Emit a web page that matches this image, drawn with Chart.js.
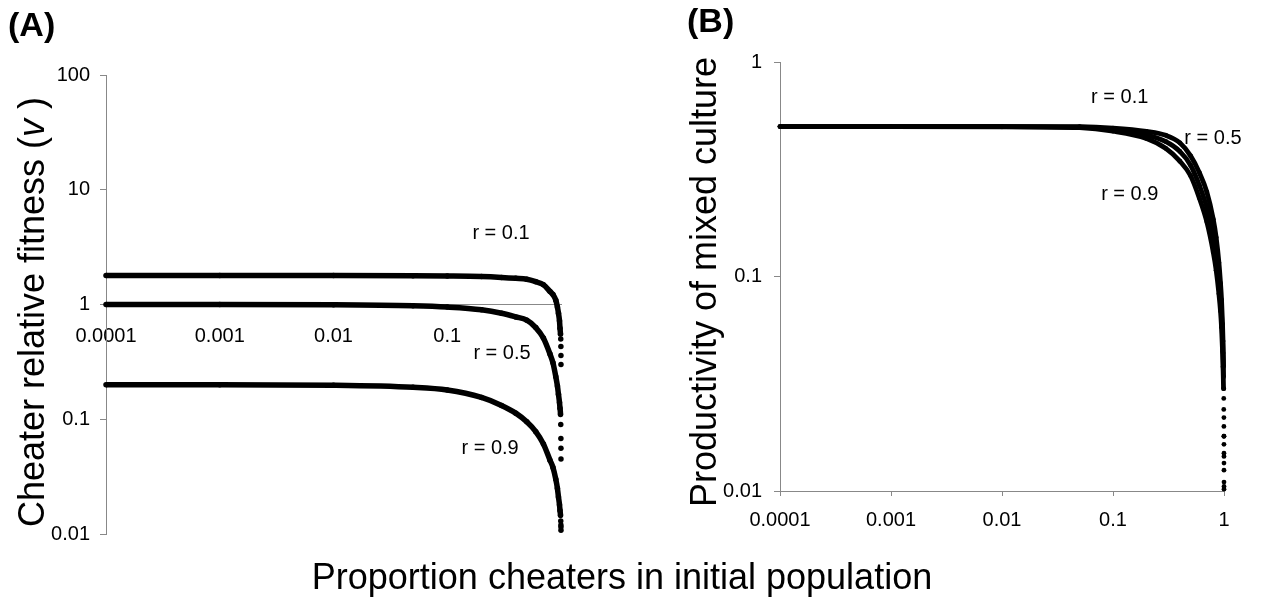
<!DOCTYPE html>
<html>
<head>
<meta charset="utf-8">
<script src="https://cdn.jsdelivr.net/npm/chart.js@4.4.1/dist/chart.umd.min.js"></script>
<style>
  html, body { margin: 0; padding: 0; background: #fff; }
  #wrap { position: relative; width: 1265px; height: 598px; overflow: hidden; }
  canvas { position: absolute; top: 0; }
  #xtitle {
    position: absolute; left: 0; top: 557px; width: 1244px; text-align: center;
    font: 36px "Liberation Sans", Arial, sans-serif; line-height: 40px; color: #000;
  }
</style>
</head>
<body>
<div id="wrap">
  <canvas id="chartA" width="620" height="598" style="left:0"></canvas>
  <canvas id="chartB" width="645" height="598" style="left:620px"></canvas>
  <div id="xtitle">Proportion cheaters in initial population</div>
</div>
<script>
// Proporção de trapaceiros (eixo x, log) para os dois painéis
const propA = [0.0001, 0.001, 0.01, 0.05, 0.1, 0.2, 0.3, 0.4, 0.5, 0.6, 0.7, 0.8, 0.85, 0.9, 0.93, 0.95, 0.97, 0.98, 0.99, 0.995, 0.998, 0.999, 0.9995]
const propB = [0.0001, 0.001, 0.01, 0.05, 0.1, 0.2, 0.3, 0.4, 0.5, 0.6, 0.7, 0.8, 0.85, 0.9, 0.93, 0.95, 0.97, 0.98, 0.99, 0.995, 0.998, 0.999, 0.9995, 0.9999]

// (A) cheater relative fitness
const fitnessR01 = [1.79, 1.79, 1.79, 1.78, 1.77, 1.75, 1.72, 1.69, 1.66, 1.58, 1.49, 1.30, 1.22, 1.09, 0.95, 0.84, 0.72, 0.62, 0.55, 0.50, 0.43, 0.36, 0.30]
const fitnessR05 = [1.0, 1.0, 0.995, 0.975, 0.95, 0.9, 0.84, 0.78, 0.73, 0.63, 0.51, 0.37, 0.31, 0.235, 0.195, 0.165, 0.14, 0.125, 0.11, 0.09, 0.068, 0.056, 0.045]
const fitnessR09 = [0.2, 0.2, 0.198, 0.19, 0.18, 0.155, 0.132, 0.113, 0.095, 0.078, 0.061, 0.044, 0.038, 0.030, 0.025, 0.021, 0.018, 0.016, 0.0145, 0.013, 0.012, 0.0115, 0.0108]

// (B) productivity of mixed culture
const prodR01 = [0.5, 0.5, 0.5, 0.499, 0.492, 0.475, 0.455, 0.42, 0.365, 0.305, 0.248, 0.185, 0.152, 0.116, 0.093, 0.078, 0.06, 0.05, 0.038, 0.03, 0.022, 0.018, 0.0145, 0.011]
const prodR05 = [0.5, 0.5, 0.5, 0.497, 0.484, 0.457, 0.425, 0.383, 0.33, 0.266, 0.21, 0.155, 0.127, 0.098, 0.08, 0.067, 0.052, 0.044, 0.034, 0.027, 0.02, 0.0165, 0.0135, 0.0105]
const prodR09 = [0.5, 0.5, 0.499, 0.494, 0.476, 0.44, 0.395, 0.345, 0.295, 0.232, 0.18, 0.13, 0.107, 0.083, 0.069, 0.058, 0.045, 0.038, 0.03, 0.024, 0.018, 0.015, 0.0125, 0.0102]

// Ticks e rótulos
const xTicksA = [0.0001, 0.001, 0.01, 0.1]
const xTickLabelsA = ["0.0001", "0.001", "0.01", "0.1"]
const yTicksA = [0.01, 0.1, 1, 10, 100]
const yTickLabelsA = ["0.01", "0.1", "1", "10", "100"]
const xTicksB = [0.0001, 0.001, 0.01, 0.1, 1]
const xTickLabelsB = ["0.0001", "0.001", "0.01", "0.1", "1"]
const yTicksB = [0.01, 0.1, 1]
const yTickLabelsB = ["0.01", "0.1", "1"]

const rLabels = ["r = 0.1", "r = 0.5", "r = 0.9"]
// onde cada rótulo r fica (em coordenadas dos dados)
const rLabelAtA = [[0.297, 4.14], [0.303, 0.375], [0.238, 0.056]]
const rLabelAtB = [[0.115, 0.685], [0.796, 0.441], [0.1416, 0.242]]

const FONT = '"Liberation Sans", Arial, sans-serif'
const AXIS = "#888"
const INK = "#000"

// desenha letra do painel, rótulos r e título do eixo y (girado)
const annotate = {
  id: "annotate",
  afterDraw(chart, args, o) {
    const { ctx } = chart
    const { x, y } = chart.scales
    ctx.save()
    ctx.fillStyle = INK
    ctx.textAlign = "left"
    ctx.textBaseline = "alphabetic"
    ctx.font = "bold 34px " + FONT
    ctx.fillText(o.letter, o.letterX, o.letterY)

    ctx.font = "20px " + FONT
    ctx.textAlign = "center"
    ctx.textBaseline = "middle"
    o.notes.forEach(([px, py], i) => {
      ctx.fillText(rLabels[i], x.getPixelForValue(px), y.getPixelForValue(py))
    })

    ctx.translate(o.titleX, o.titleY)
    ctx.rotate(-Math.PI / 2)
    ctx.textAlign = "left"
    ctx.textBaseline = "alphabetic"
    const fontOf = (p) => (p.italic ? "italic " : "") + "36px " + FONT
    let total = 0
    o.title.forEach((p) => { ctx.font = fontOf(p); total += ctx.measureText(p.text).width })
    let cx = -total / 2
    o.title.forEach((p) => {
      ctx.font = fontOf(p)
      ctx.fillText(p.text, cx, 0)
      cx += ctx.measureText(p.text).width
    })
    ctx.restore()
  }
}

function series(xs, values, width) {
  return {
    data: xs.map((x, i) => ({ x, y: values[i] })),
    borderColor: INK,
    backgroundColor: INK,
    borderWidth: width,
    pointRadius: width / 2,
    pointBorderWidth: 0,
    cubicInterpolationMode: "monotone",
    clip: false,
    // a cauda perto de 1 fica só em pontos soltos
    segment: { borderColor: (ctx) => (ctx.p0.parsed.x >= 0.99 ? "rgba(0,0,0,0)" : INK) }
  }
}

function fixedTicks(values) {
  return (axis) => { axis.ticks = values.map((value) => ({ value })) }
}

const tickFont = { family: FONT, size: 20 }

new Chart(document.getElementById("chartA"), {
  type: "line",
  data: { datasets: [series(propA, fitnessR01, 5.5), series(propA, fitnessR05, 5.5), series(propA, fitnessR09, 5.5)] },
  options: {
    responsive: false,
    animation: false,
    devicePixelRatio: 1,
    layout: { padding: { top: 75, right: 59, bottom: 64, left: 0 } },
    plugins: {
      legend: { display: false },
      tooltip: { enabled: false },
      annotate: {
        letter: "(A)", letterX: 8, letterY: 36,
        notes: rLabelAtA,
        titleX: 44, titleY: 312,
        title: [{ text: "Cheater relative fitness (" }, { text: "v", italic: true }, { text: " )" }]
      }
    },
    scales: {
      x: {
        type: "logarithmic",
        min: 0.0001,
        max: 1,
        position: { y: 1 },
        afterBuildTicks: fixedTicks(xTicksA),
        ticks: { autoSkip: false, maxRotation: 0, padding: 20, color: INK, font: tickFont,
          callback: (v, i) => xTickLabelsA[i] },
        grid: { display: false, drawTicks: false },
        border: { color: AXIS, width: 1 }
      },
      y: {
        type: "logarithmic",
        min: 0.01,
        max: 100,
        afterBuildTicks: fixedTicks(yTicksA),
        afterFit: (s) => { s.width = 106 },
        ticks: { autoSkip: false, padding: 10, color: INK, font: tickFont,
          callback: (v, i) => yTickLabelsA[i] },
        grid: { drawOnChartArea: false, tickLength: 6, color: AXIS },
        border: { color: AXIS, width: 1 }
      }
    }
  },
  plugins: [annotate]
})

new Chart(document.getElementById("chartB"), {
  type: "line",
  data: { datasets: [series(propB, prodR01, 4.8), series(propB, prodR05, 4.8), series(propB, prodR09, 4.8)] },
  options: {
    responsive: false,
    animation: false,
    devicePixelRatio: 1,
    layout: { padding: { top: 62, right: 41, bottom: 0, left: 0 } },
    plugins: {
      legend: { display: false },
      tooltip: { enabled: false },
      annotate: {
        letter: "(B)", letterX: 67, letterY: 32,
        notes: rLabelAtB,
        titleX: 96, titleY: 282,
        title: [{ text: "Productivity of mixed culture" }]
      }
    },
    scales: {
      x: {
        type: "logarithmic",
        min: 0.0001,
        max: 1,
        afterBuildTicks: fixedTicks(xTicksB),
        afterFit: (s) => { s.height = 107 },
        ticks: { autoSkip: false, maxRotation: 0, padding: 12, color: INK, font: tickFont,
          callback: (v, i) => xTickLabelsB[i] },
        grid: { drawOnChartArea: false, tickLength: 5, color: AXIS },
        border: { color: AXIS, width: 1 }
      },
      y: {
        type: "logarithmic",
        min: 0.01,
        max: 1,
        afterBuildTicks: fixedTicks(yTicksB),
        afterFit: (s) => { s.width = 160 },
        ticks: { autoSkip: false, padding: 12, color: INK, font: tickFont,
          callback: (v, i) => yTickLabelsB[i] },
        grid: { drawOnChartArea: false, tickLength: 6, color: AXIS },
        border: { color: AXIS, width: 1 }
      }
    }
  },
  plugins: [annotate]
})
</script>
</body>
</html>
